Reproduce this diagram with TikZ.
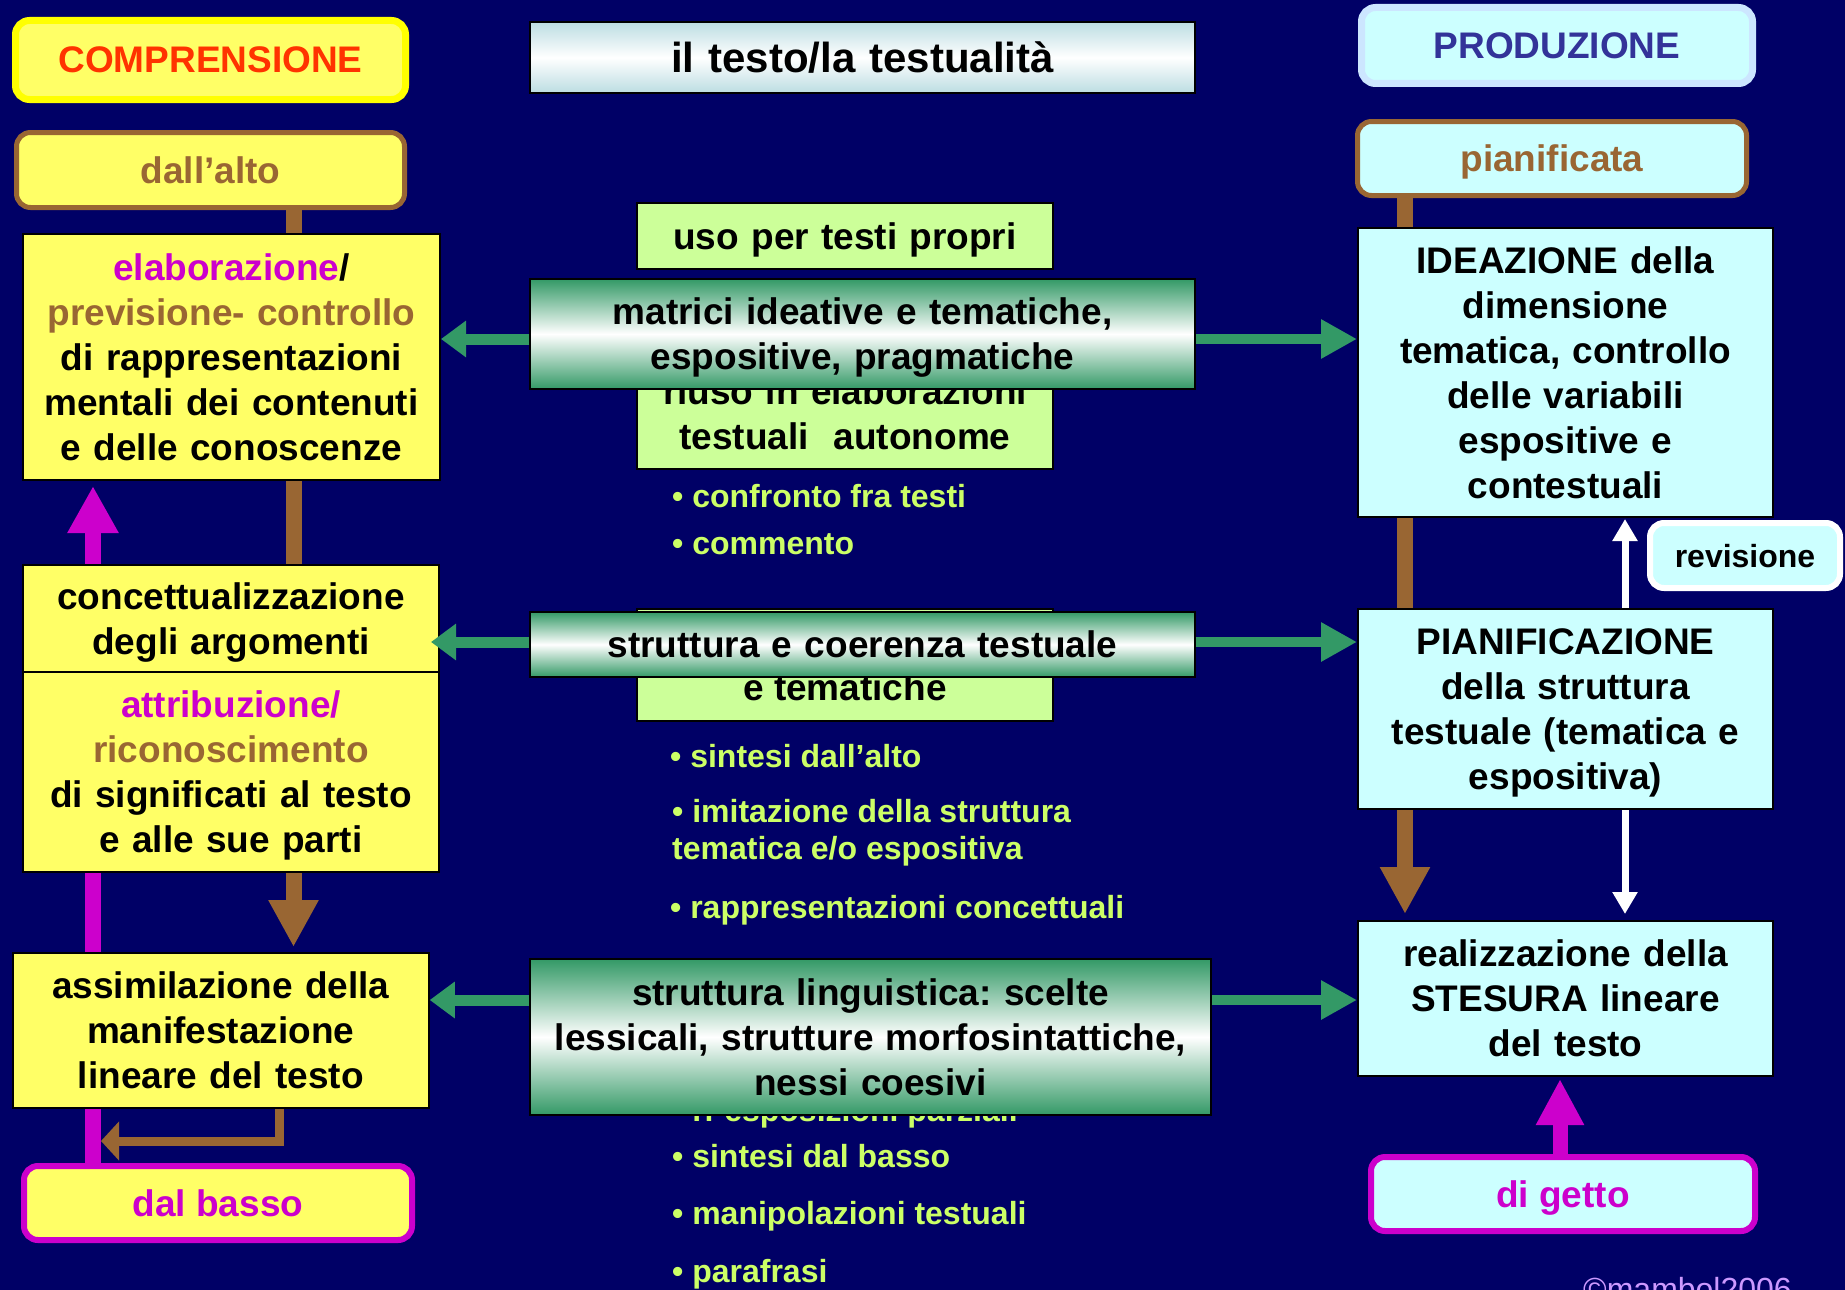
\documentclass[tikz,border=0pt]{standalone}
\usepackage{fontspec}
\setmainfont{Liberation Sans}
\usetikzlibrary{arrows.meta,calc}
\definecolor{navy}{HTML}{000066}
\definecolor{ylw}{HTML}{FFFF66}
\definecolor{ylwB}{HTML}{FFFF00}
\definecolor{cyn}{HTML}{CCFFFF}
\definecolor{cynB}{HTML}{CCE6FF}
\definecolor{lime}{HTML}{CCFF99}
\definecolor{grn}{HTML}{339966}
\definecolor{brn}{HTML}{996633}
\definecolor{mag}{HTML}{CC00CC}
\definecolor{orng}{HTML}{FF3300}
\definecolor{dblue}{HTML}{333399}
\definecolor{bul}{HTML}{CCFF66}
\definecolor{cpy}{HTML}{CC99FF}
\definecolor{pale}{HTML}{BCDDE2}
\newcommand{\nodesc}[1]{\raisebox{0pt}[\height][0pt]{#1}}
\pgfdeclarelayer{back}
\pgfdeclarelayer{conn}
\pgfsetlayers{back,conn,main}
\tikzset{
  txt/.style={font=\fontsize{37}{45}\selectfont\bfseries, align=center, inner sep=0pt},
  sqbox/.style={txt, draw=black, line width=2pt},
  rbox/.style={txt, rounded corners=14pt, text depth=0pt},
  bultxt/.style={font=\fontsize{32}{37}\selectfont\bfseries, text=bul, anchor=base west, inner sep=0pt},
  gshade/.style={top color=grn, bottom color=grn, middle color=white},
  garL/.style={draw=grn, line width=11pt, -{Triangle[length=25pt,width=35pt]}},
  garR/.style={draw=grn, line width=10pt, -{Triangle[length=36pt,width=37pt]}},
  bline/.style={draw=brn, line width=16pt},
  mline/.style={draw=mag, line width=16pt},
  warrow/.style={draw=white, line width=7pt, -{Triangle[length=22pt,width=24pt]}},
}
\begin{document}
\frenchspacing
\begin{tikzpicture}[x=1pt,y=-1pt]
\useasboundingbox (0,0) rectangle (1845,1290);
\begin{pgfonlayer}{back}
\fill[navy] (0,0) rectangle (1845,1290);
\end{pgfonlayer}

% helper coordinates
\coordinate (bcolL) at (293.5,0);
\coordinate (mcolL) at (93,0);
\coordinate (bcolR) at (1405,0);
\coordinate (wcolR) at (1625,0);
\coordinate (mcolR) at (1560,0);
\coordinate (row1) at (0,339);
\coordinate (row2) at (0,642);
\coordinate (row3) at (0,1000);
\coordinate (lcorner) at (279,1141);

% ---------- left column ----------
\node[rbox, draw=ylwB, line width=7pt, fill=ylw, text=orng, minimum width=390pt, minimum height=79pt] (compr) at (210.5,60) {COMPRENSIONE};
\node[rbox, draw=brn, line width=5pt, fill=ylw, text=brn, minimum width=388pt, minimum height=75pt] (dallalto) at (210.5,170) {dall’alto};
\node[sqbox, fill=ylw, text width=417pt, minimum width=417pt, minimum height=246pt] (elab) at (231.5,357)
  {{\color{mag}elaborazione}/\\{\color{brn}previsione- controllo}\\di rappresentazioni\\mentali dei contenuti\\e delle conoscenze};
\node[sqbox, fill=ylw, text width=416pt, minimum width=416pt, minimum height=107pt] (concett) at (231,618.5)
  {concettualizzazione\\\nodesc{degli argomenti}};
\node[sqbox, fill=ylw, text width=416pt, minimum width=416pt, minimum height=200pt] (attrib) at (231,772)
  {{\color{mag}attribuzione/}\\{\color{brn}riconoscimento}\\di significati al testo\\\nodesc{e alle sue parti}};
\node[sqbox, fill=ylw, text width=416pt, minimum width=416pt, minimum height=155pt] (assim) at (220.75,1030.5)
  {assimilazione della\\manifestazione\\lineare del testo};
\node[rbox, draw=mag, line width=6pt, fill=ylw, text=mag, minimum width=388pt, minimum height=74pt] (dalbasso) at (218,1203) {dal basso};

% ---------- centre column ----------
\node[sqbox, top color=pale, bottom color=pale, middle color=white, text width=665pt, minimum width=665pt, minimum height=71pt, font=\fontsize{42}{50}\selectfont\bfseries] (testo) at (862.5,57.5) {il testo/la testualità};
\node[sqbox, fill=lime, text width=416pt, minimum width=416pt, minimum height=66pt] (uso) at (845,236) {\nodesc{uso per testi propri}};
\node[sqbox, fill=lime, text width=416pt, minimum width=416pt, minimum height=111pt] (riuso) at (845,413.5) {riuso in elaborazioni\\testuali~ autonome};
\node[sqbox, gshade, text width=665pt, minimum width=665pt, minimum height=110pt] (matrici) at (862.5,334)
  {matrici ideative e tematiche,\\\nodesc{espositive, pragmatiche}};
\node[bultxt] (b1) at (672,507) {• confronto fra testi};
\node[bultxt] (b2) at (672,554) {• commento};

\node[draw=black, line width=2pt, fill=lime, minimum width=416pt, minimum height=112pt, inner sep=0pt] (tembox) at (845,665) {};
\node[txt, anchor=base] (tem) at (845,700) {e tematiche};
\node[sqbox, gshade, text width=665pt, minimum width=665pt, minimum height=65pt] (strcoer) at (862.5,644.5) {struttura e coerenza testuale};
\node[bultxt] (b3) at (670,767) {• sintesi dall’alto};
\node[bultxt] (b4) at (672,822) {• imitazione della struttura};
\node[bultxt] (b4b) at (672,859) {tematica e/o espositiva};
\node[bultxt] (b5) at (670,918) {• rappresentazioni concettuali};

\node[bultxt] (b6) at (672,1121) {• ri-esposizioni parziali};
\node[sqbox, gshade, text width=681pt, minimum width=681pt, minimum height=156pt] (strling) at (870.5,1037)
  {struttura linguistica: scelte\\lessicali, strutture morfosintattiche,\\nessi coesivi};
\node[bultxt] (b7) at (672,1167) {• sintesi dal basso};
\node[bultxt] (b8) at (672,1224) {• manipolazioni testuali};
\node[bultxt] (b9) at (672,1282) {• parafrasi};

% ---------- right column ----------
\node[rbox, draw=cynB, line width=7pt, fill=cyn, text=dblue, minimum width=391pt, minimum height=76pt] (prod) at (1557,45.5) {PRODUZIONE};
\node[rbox, draw=brn, line width=5pt, fill=cyn, text=brn, minimum width=389pt, minimum height=74pt] (pianif) at (1552,158.5) {pianificata};
\node[sqbox, fill=cyn, text width=415pt, minimum width=415pt, minimum height=289pt] (ideaz) at (1565.5,372.5)
  {IDEAZIONE della\\dimensione\\tematica, controllo\\delle variabili\\espositive e\\contestuali};
\node[rbox, draw=white, line width=6pt, fill=cyn, text=black, minimum width=190pt, minimum height=65pt, font=\fontsize{32}{38}\selectfont\bfseries] (revis) at (1745,555.5) {revisione};
\node[sqbox, fill=cyn, text width=415pt, minimum width=415pt, minimum height=200pt] (pianifz) at (1565.5,709)
  {PIANIFICAZIONE\\della struttura\\testuale (tematica e\\\nodesc{espositiva)}};
\node[sqbox, fill=cyn, text width=415pt, minimum width=415pt, minimum height=155pt] (realiz) at (1565.5,998.5)
  {realizzazione della\\STESURA lineare\\del testo};
\node[rbox, draw=mag, line width=6pt, fill=cyn, text=mag, minimum width=384pt, minimum height=74pt] (digetto) at (1563,1194) {di getto};

\node[anchor=base west, inner sep=0pt, text=cpy, font=\fontsize{32}{38}\selectfont] (copy) at (1583,1300) {©mambol2006};

% ---------- connectors behind the boxes ----------
\begin{pgfonlayer}{conn}
\draw[bline, -{Triangle[length=47pt,width=47pt]}] (dallalto.south -| bcolL) -- ($(assim.north -| bcolL)+(0,-5)$);
\draw[mline, -{Triangle[length=47pt,width=48pt]}] (dalbasso.north -| mcolL) -- ($(elab.south -| mcolL)+(0,5)$);
\draw[bline, -{Triangle[length=47pt,width=47pt]}] (pianif.south -| bcolR) -- ($(realiz.north -| bcolR)+(0,-6)$);
\end{pgfonlayer}

% ---------- arrows on top ----------
\draw[draw=brn, line width=9pt, line join=miter, -{Triangle[length=18pt,width=38pt]}]
  (assim.south -| lcorner) -- (lcorner) -- ($(lcorner -| mcolL)+(8,0)$);
\draw[garL] (matrici.west |- row1) -- (elab.east |- row1);
\draw[garR] (matrici.east |- row1) -- (ideaz.west |- row1);
\draw[garL] (strcoer.west |- row2) -- ($(concett.east |- row2)+(-9,0)$);
\draw[garR] (strcoer.east |- row2) -- (pianifz.west |- row2);
\draw[garL] (strling.west |- row3) -- (assim.east |- row3);
\draw[garR] (strling.east |- row3) -- (realiz.west |- row3);
\draw[warrow] (pianifz.north -| wcolR) -- ($(ideaz.south -| wcolR)+(0,1)$);
\draw[warrow] (pianifz.south -| wcolR) -- ($(realiz.north -| wcolR)+(0,-6)$);
\draw[draw=mag, line width=15pt, -{Triangle[length=46pt,width=45pt]}] (digetto.north -| mcolR) -- ($(realiz.south -| mcolR)+(0,2)$);
\end{tikzpicture}
\end{document}
